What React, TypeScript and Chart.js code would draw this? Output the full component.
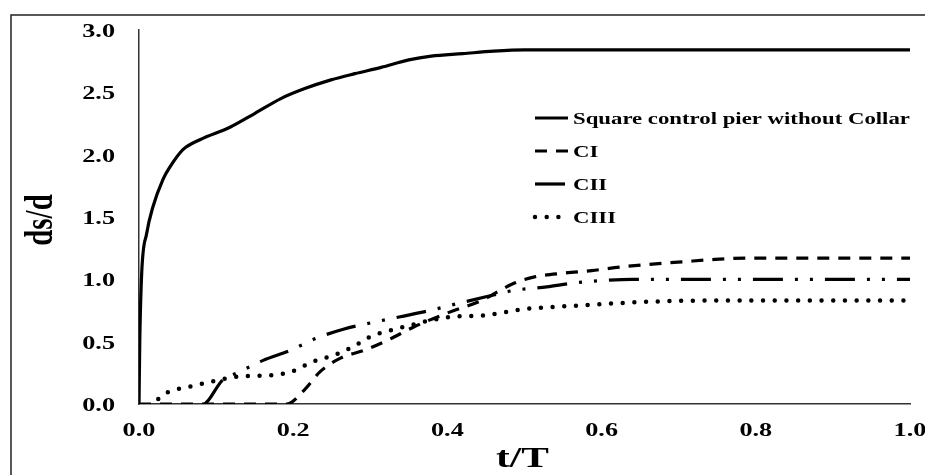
import React, { useEffect, useRef } from "react";
import { Chart, registerables } from "chart.js";

Chart.register(...registerables);

// ---- data ----
const X_TICKS = [0, 0.2, 0.4, 0.6, 0.8, 1.0];
const Y_TICKS = [0, 0.5, 1.0, 1.5, 2.0, 2.5, 3.0];

const SERIES_NAMES = ["Square control pier without Collar", "CI", "CII", "CIII"];

const controlX = [0, 0.001, 0.0035, 0.01, 0.018, 0.031, 0.04, 0.057, 0.079, 0.118, 0.15, 0.184, 0.215, 0.249, 0.28, 0.314, 0.35, 0.379, 0.42, 0.46, 0.5, 0.6, 0.7, 0.8, 0.9, 1.0];
const controlY = [0, 0.5, 1.05, 1.37, 1.58, 1.8, 1.9, 2.04, 2.12, 2.22, 2.33, 2.45, 2.53, 2.6, 2.65, 2.7, 2.76, 2.79, 2.81, 2.83, 2.84, 2.84, 2.84, 2.84, 2.84, 2.84];

const c1X = [0, 0.192, 0.214, 0.235, 0.262, 0.292, 0.322, 0.357, 0.4, 0.444, 0.487, 0.513, 0.552, 0.587, 0.626, 0.661, 0.704, 0.747, 0.79, 0.85, 0.9, 1.0];
const c1Y = [0, 0, 0.11, 0.26, 0.37, 0.43, 0.51, 0.62, 0.73, 0.83, 0.97, 1.02, 1.05, 1.07, 1.1, 1.12, 1.14, 1.16, 1.17, 1.17, 1.17, 1.17];

const c2X = [0.085, 0.09, 0.108, 0.127, 0.144, 0.161, 0.196, 0.231, 0.265, 0.3, 0.339, 0.377, 0.416, 0.45, 0.485, 0.529, 0.563, 0.6, 0.64, 0.7, 0.8, 0.9, 1.0];
const c2Y = [0, 0.03, 0.19, 0.25, 0.3, 0.35, 0.43, 0.53, 0.6, 0.65, 0.7, 0.75, 0.81, 0.86, 0.91, 0.94, 0.97, 0.99, 1.0, 1.0, 1.0, 1.0, 1.0];

const c3X = [0.025, 0.036, 0.066, 0.095, 0.127, 0.17, 0.198, 0.226, 0.252, 0.278, 0.3, 0.326, 0.351, 0.377, 0.407, 0.446, 0.498, 0.572, 0.659, 0.745, 0.85, 1.0];
const c3Y = [0.04, 0.09, 0.14, 0.18, 0.22, 0.23, 0.26, 0.34, 0.39, 0.46, 0.54, 0.59, 0.63, 0.67, 0.7, 0.71, 0.76, 0.79, 0.82, 0.83, 0.83, 0.83];

const pts = (xs: number[], ys: number[]) => xs.map((x, i) => ({ x, y: ys[i] }));

const FONT_FAMILY = "'Liberation Serif', 'Times New Roman', serif";
const SX = 1.38; // horizontal stretch of the original picture's text

function drawText(
  ctx: CanvasRenderingContext2D,
  text: string,
  x: number,
  y: number,
  size: number,
  align: CanvasTextAlign,
  rotate = false
) {
  ctx.save();
  ctx.translate(x, y);
  ctx.scale(SX, 1);
  if (rotate) ctx.rotate(-Math.PI / 2);
  ctx.font = `bold ${size}px ${FONT_FAMILY}`;
  ctx.textAlign = align;
  ctx.textBaseline = "alphabetic";
  ctx.fillStyle = "#000";
  ctx.fillText(text, 0, 0);
  ctx.restore();
}

const decorPlugin = {
  id: "decor",
  beforeDraw(chart: any) {
    const ctx = chart.ctx as CanvasRenderingContext2D;
    ctx.save();
    ctx.fillStyle = "#fff";
    ctx.fillRect(0, 0, chart.width, chart.height);
    ctx.strokeStyle = "#222";
    ctx.lineWidth = 1.5;
    ctx.beginPath();
    ctx.moveTo(11, chart.height + 2);
    ctx.lineTo(11, 15);
    ctx.lineTo(chart.width + 2, 15);
    ctx.stroke();
    ctx.restore();
  },
  afterDraw(chart: any) {
    const ctx = chart.ctx as CanvasRenderingContext2D;
    const xs = chart.scales.x;
    const ys = chart.scales.y;
    const area = chart.chartArea;
    // tick labels
    Y_TICKS.forEach((v) => {
      drawText(ctx, v.toFixed(1), 115, ys.getPixelForValue(v) + 7, 19, "right");
    });
    X_TICKS.forEach((v) => {
      drawText(ctx, v.toFixed(1), xs.getPixelForValue(v), 436, 19, "center");
    });
    // axis titles
    drawText(ctx, "ds/d", 52, (area.top + area.bottom) / 2 + 3, 29, "center", true);
    drawText(ctx, "t/T", (area.left + area.right) / 2 - 2, 467, 30, "center");
    // legend
    const rowY = [124, 157, 190, 223];
    chart.data.datasets.forEach((ds: any, i: number) => {
      const y = rowY[i] - 6;
      ctx.save();
      ctx.strokeStyle = ds.borderColor;
      ctx.lineWidth = ds.borderWidth;
      ctx.lineCap = ds.borderCapStyle || "butt";
      ctx.setLineDash(ds.borderDash || []);
      ctx.beginPath();
      ctx.moveTo(535, y);
      ctx.lineTo(i === 3 ? 560 : 568, y);
      ctx.stroke();
      ctx.restore();
      drawText(ctx, ds.label, 573, rowY[i], 16.5, "left");
    });
  },
};

export default function App() {
  const ref = useRef<HTMLCanvasElement>(null);
  useEffect(() => {
    document.body.style.margin = "0";
    const canvas = ref.current;
    if (!canvas) return;
    const chart = new Chart(canvas, {
      type: "line",
      data: {
        datasets: [
          {
            label: SERIES_NAMES[0],
            data: pts(controlX, controlY),
            borderColor: "#000",
            borderWidth: 3.2,
            pointRadius: 0,
            cubicInterpolationMode: "monotone",
          },
          {
            label: SERIES_NAMES[1],
            data: pts(c1X, c1Y),
            borderColor: "#000",
            borderWidth: 3.2,
            borderDash: [12, 9],
            pointRadius: 0,
            cubicInterpolationMode: "monotone",
          },
          {
            label: SERIES_NAMES[2],
            data: pts(c2X, c2Y),
            borderColor: "#000",
            borderWidth: 3.2,
            borderDash: [30, 12, 3, 12, 3, 12],
            pointRadius: 0,
            cubicInterpolationMode: "monotone",
          },
          {
            label: SERIES_NAMES[3],
            data: pts(c3X, c3Y),
            borderColor: "#000",
            borderWidth: 4.5,
            borderDash: [0, 11.7],
            borderCapStyle: "round",
            pointRadius: 0,
            cubicInterpolationMode: "monotone",
          },
        ],
      } as any,
      options: {
        animation: false,
        responsive: false,
        events: [],
        layout: { padding: { left: 139, top: 30, right: 15, bottom: 71 } },
        plugins: { legend: { display: false }, tooltip: { enabled: false } },
        scales: {
          x: {
            type: "linear",
            min: 0,
            max: 1,
            grid: { display: false, drawTicks: false },
            border: { display: true, color: "#333", width: 1.5 },
            ticks: { display: false },
            afterFit: (s: any) => {
              s.height = 0;
            },
          },
          y: {
            type: "linear",
            min: 0,
            max: 3,
            grid: { display: false, drawTicks: false },
            border: { display: true, color: "#333", width: 1.5 },
            ticks: { display: false },
            afterFit: (s: any) => {
              s.width = 0;
            },
          },
        },
      } as any,
      plugins: [decorPlugin],
    });
    return () => chart.destroy();
  }, []);
  return (
    <div style={{ width: 925, height: 475 }}>
      <canvas ref={ref} width={925} height={475} style={{ display: "block" }} />
    </div>
  );
}
